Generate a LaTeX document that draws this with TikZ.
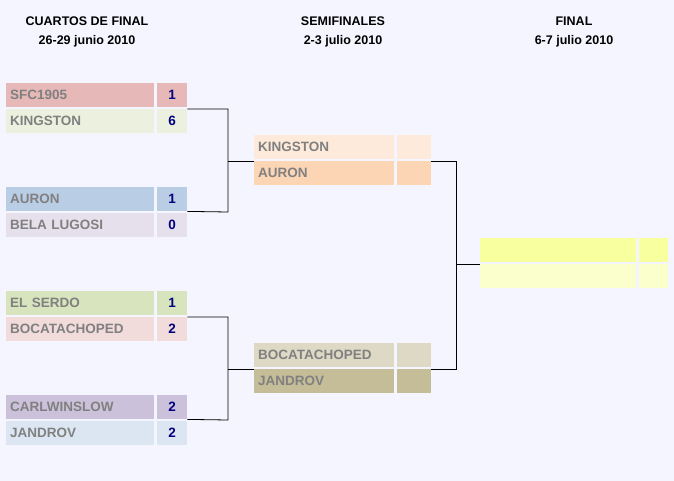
\documentclass[tikz,border=0pt]{standalone}
\usepackage{fontspec}
\setmainfont{Liberation Sans}
\begin{document}
\begin{tikzpicture}[x=1pt,y=-1pt,
  cell/.style={anchor=north west,inner sep=0pt,minimum height=24pt,font=\bfseries\fontsize{13.5}{15}\selectfont,text=black!50},
  nm/.style={cell,align=left,text width=#1, inner xsep=4pt},
  sc/.style={cell,align=center,text=blue!50!black},
  hd/.style={font=\bfseries\fontsize{12.5}{19}\selectfont,align=center},
  ln/.style={draw=black,line width=0.8pt}]
\fill[blue!4] (0,0) rectangle (674,481);
\useasboundingbox (0,0) rectangle (674,481);
\definecolor{c1}{HTML}{E6B9B8}\definecolor{c2}{HTML}{EBF1DE}
\definecolor{c3}{HTML}{B9CDE5}\definecolor{c4}{HTML}{E6E0EC}
\definecolor{c5}{HTML}{D7E4BD}\definecolor{c6}{HTML}{F2DCDB}
\definecolor{c7}{HTML}{CCC1DA}\definecolor{c8}{HTML}{DCE6F2}
\definecolor{s1}{HTML}{FDEADA}\definecolor{s2}{HTML}{FCD5B5}
\definecolor{s3}{HTML}{DDD9C4}\definecolor{s4}{HTML}{C4BD97}
\definecolor{f1}{HTML}{F7FF9E}\definecolor{f2}{HTML}{FBFFCC}
\node[hd] (h1) at (87,32) {CUARTOS DE FINAL\\26-29 junio 2010};
\node[hd] (h2) at (343,32) {SEMIFINALES\\2-3 julio 2010};
\node[hd] (h3) at (574,32) {FINAL\\6-7 julio 2010};
% QF
\foreach \y/\t/\s/\c/\n in {83/SFC1905/1/c1/a, 109/KINGSTON/6/c2/b, 187/AURON/1/c3/c, 213/BELA LUGOSI/0/c4/d, 291/EL SERDO/1/c5/e, 317/BOCATACHOPED/2/c6/f, 395/CARLWINSLOW/2/c7/g, 421/JANDROV/2/c8/h}{
  \node[nm=140pt,fill=\c] (q\n) at (6,\y) {\t};
  \node[sc,fill=\c,minimum width=30pt] (qs\n) at (157,\y) {\s};
}
% SF
\foreach \y/\t/\c/\n in {135/KINGSTON/s1/a, 161/AURON/s2/b, 343/BOCATACHOPED/s3/c, 369/JANDROV/s4/d}{
  \node[nm=132pt,fill=\c] (s\n) at (254,\y) {\t};
  \node[sc,fill=\c,minimum width=34pt] (ss\n) at (397,\y) {};
}
% Final
\foreach \y/\c/\n in {238/f1/a, 264/f2/b}{
  \node[nm=148pt,fill=\c] (f\n) at (480,\y) {};
  \node[sc,fill=\c,minimum width=29pt] (fs\n) at (639,\y) {};
}
\draw[ln] (qsb.north east) -| (228,212) coordinate (m1) -- (qsc.south east);
\draw[ln] (228,161) -- (sb.north west);
\draw[ln] (qsf.north east) -| (228,420) -- (qsg.south east);
\draw[ln] (228,369) -- (sd.north west);
\draw[ln] (ssb.north east) -| (456,369) -- (ssd.north east);
\draw[ln] (456,264) -- (fb.north west);
\end{tikzpicture}
\end{document}
